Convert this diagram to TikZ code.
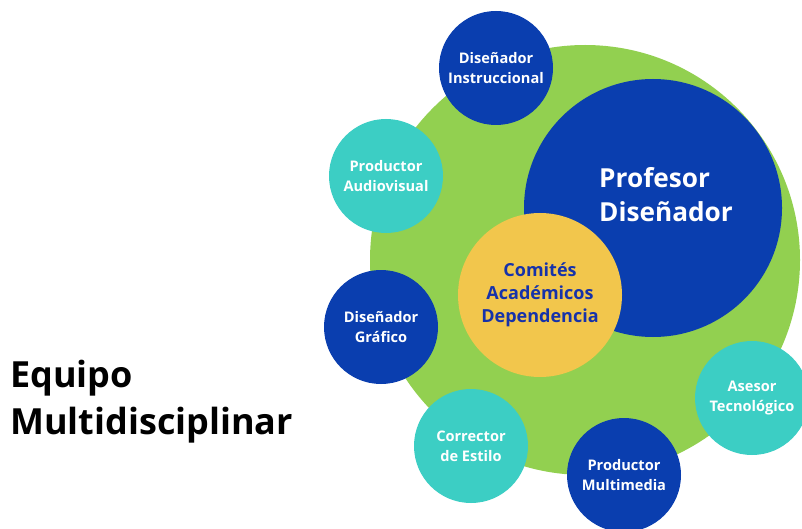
\documentclass[tikz,border=0pt]{standalone}
\usepackage{fontspec}
\setmainfont{Open Sans}
\definecolor{bgreen}{RGB}{146,208,80}
\definecolor{dblue}{RGB}{10,62,175}
\definecolor{teal2}{RGB}{60,206,196}
\definecolor{ayellow}{RGB}{242,198,76}
\definecolor{ytext}{RGB}{22,50,170}
\begin{document}
\begin{tikzpicture}[x=1pt,y=-1pt,
  disc/.style={circle, inner sep=0pt, align=center},
  small/.style={disc, minimum size=114pt, text=white, font=\bfseries\fontsize{14.6}{20}\selectfont},
  bluedisc/.style={small, fill=dblue},
  tealdisc/.style={small, fill=teal2},
  heading/.style={anchor=base west, font=\bfseries\fontsize{36}{46}\selectfont, text=black, inner sep=0pt}]
\clip (0,0) rectangle (802,529);
\fill[white] (0,0) rectangle (802,529);
\node[disc, fill=bgreen, minimum size=430pt] (team) at (585,260) {};
\node[disc, fill=dblue, minimum size=258pt] (prof) at (653,208) {};
\node[anchor=base west, inner sep=0pt, align=left, text=white, font=\bfseries\fontsize{26.2}{34}\selectfont] (proftext) at (599,222) {Profesor\\Diseñador};
\node[disc, fill=ayellow, minimum size=164pt, text=ytext, font=\bfseries\fontsize{18}{23}\selectfont] (comites) at (540,295) {Comités\\Académicos\\Dependencia};
\node[bluedisc] (instr) at (496,68) {Diseñador\\Instruccional};
\node[tealdisc] (audio) at (386,176) {Productor\\Audiovisual};
\node[bluedisc] (graf) at (381,327) {Diseñador\\Gráfico};
\node[tealdisc] (estilo) at (471,446) {Corrector\\de Estilo};
\node[bluedisc] (multi) at (624,475) {Productor\\Multimedia};
\node[tealdisc] (asesor) at (752,398) {Asesor\\Tecnológico};
\node[heading] (eq1) at (10,387) {Equipo};
\node[heading] (eq2) at (10,434) {Multidisciplinar};
\end{tikzpicture}
\end{document}
